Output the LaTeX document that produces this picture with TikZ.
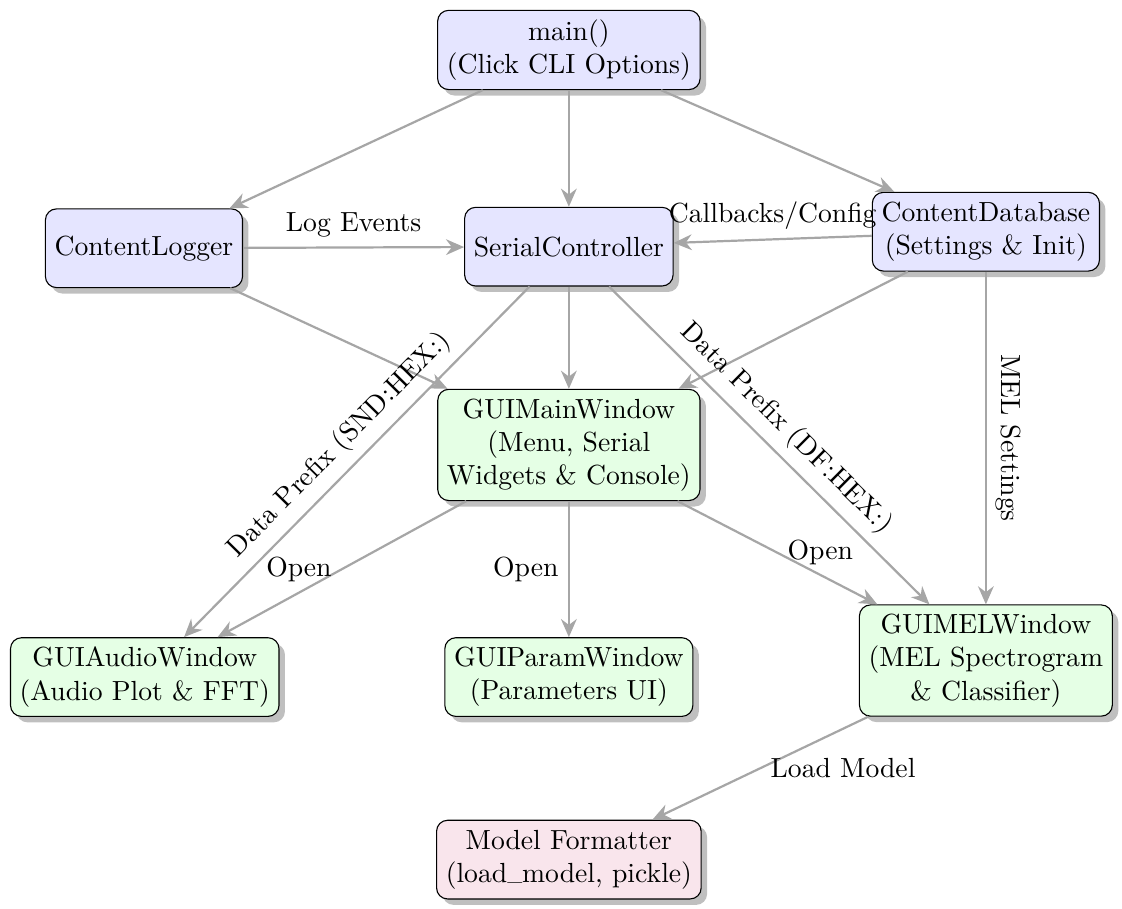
\documentclass[tikz,border=0pt]{standalone}
\usepackage{amsmath}
\usepackage{tikz}
\usetikzlibrary{arrows.meta,shadows}

\begin{document}
\begin{tikzpicture}[
        corebox/.style={draw, rounded corners, fill=blue!10, align=center, minimum height=1cm, drop shadow},
        guibox/.style={corebox, fill=green!10},
        modelbox/.style={corebox, fill=purple!10},
        link/.style={-{Stealth[length=2.3mm,width=2mm]}, thick, draw=gray!70}
    ]
        \useasboundingbox (-7.23,0.635) rectangle (7.03,-10.91);

        % core modules
        \node[corebox] (main) at (0,0) {main()\\(Click CLI Options)};
        \node[corebox] (logger) at (-5.40,-2.52) {ContentLogger};
        \node[corebox] (serial) at (0,-2.50) {SerialController};
        \node[corebox] (database) at (5.30,-2.31) {ContentDatabase\\(Settings \& Init)};

        % windows
        \node[guibox] (mainwin) at (0,-5.02) {GUIMainWindow\\(Menu, Serial\\Widgets \& Console)};
        \node[guibox] (audiowin) at (-5.39,-7.97) {GUIAudioWindow\\(Audio Plot \& FFT)};
        \node[guibox] (paramwin) at (0,-7.97) {GUIParamWindow\\(Parameters UI)};
        \node[guibox] (melwin) at (5.30,-7.76) {GUIMELWindow\\(MEL Spectrogram\\\& Classifier)};

        \node[modelbox] (formatter) at (0,-10.29) {Model Formatter\\(load\raisebox{0.1em}{\scalebox{0.72}[1]{\_}}model, pickle)};

        \draw[link] (main) -- (logger);
        \draw[link] (main) -- (serial);
        \draw[link] (main) -- (database);

        \draw[link] (logger) -- node[above] {Log Events} (serial);
        \draw[link] (database) -- node[above] {Callbacks/Config} (serial);

        \draw[link] (logger) -- (mainwin);
        \draw[link] (serial) -- (mainwin);
        \draw[link] (database) -- (mainwin);

        \draw[link] (serial) -- node[above, sloped] {Data Prefix (SND:HEX:)} (audiowin);
        \draw[link] (serial) -- node[above, sloped] {Data Prefix (DF:HEX:)} (melwin);
        \draw[link] (database) -- node[above, sloped] {MEL Settings} (melwin);

        \draw[link] (mainwin) -- node[left] {Open} (audiowin);
        \draw[link] (mainwin) -- node[left] {Open} (paramwin);
        \draw[link] (mainwin) -- node[right] {Open} (melwin);

        \draw[link] (melwin) -- node[right] {Load Model} (formatter);
\end{tikzpicture}
\end{document}
